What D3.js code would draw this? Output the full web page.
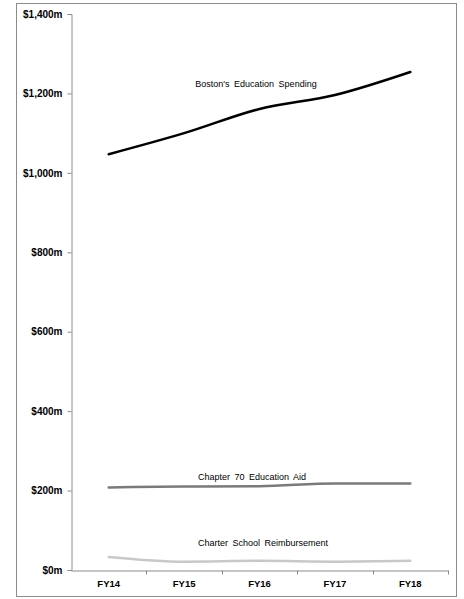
<!DOCTYPE html>
<html>
<head>
<meta charset="utf-8">
<script src="https://cdn.jsdelivr.net/npm/d3@7"></script>
<style>
  body { margin: 0; background: #fff; }
  text { font-family: Arial, 'Liberation Sans', sans-serif; }
</style>
</head>
<body>
<div id="chart"></div>
<script>
const years = ['FY14', 'FY15', 'FY16', 'FY17', 'FY18'];
const bostonSpending = [1047, 1100, 1161, 1196, 1254];
const chapter70Aid = [208, 210, 211, 218, 218];
const charterReimb = [33, 21, 23, 21, 23];
const yTicks = [0, 200, 400, 600, 800, 1000, 1200, 1400];

const width = 464, height = 599;
const margin = { top: 14, right: 16, bottom: 29, left: 71 };

const svg = d3.select('#chart')
  .append('svg')
  .attr('width', width)
  .attr('height', height);

// outer frame
svg.append('rect')
  .attr('x', 16.5).attr('y', 3.5)
  .attr('width', 440).attr('height', 593)
  .attr('fill', 'none')
  .attr('stroke', '#8c8c8c')
  .attr('stroke-width', 1);

const x = d3.scaleBand()
  .domain(years)
  .range([margin.left, width - margin.right]);

const y = d3.scaleLinear()
  .domain([0, 1400])
  .range([height - margin.bottom, margin.top]);

const fmt = d => '$' + d3.format(',')(d) + 'm';

// y axis
const yAxis = svg.append('g')
  .attr('transform', `translate(${margin.left + 0.5},0)`)
  .call(d3.axisLeft(y).tickValues(yTicks).tickFormat(fmt).tickSize(4).tickPadding(5));
yAxis.select('.domain').attr('stroke', '#8c8c8c');
yAxis.selectAll('.tick line').attr('stroke', '#8c8c8c');
yAxis.selectAll('text')
  .attr('fill', '#000')
  .style('font-size', '10px')
  .style('font-weight', 700);

// x axis with ticks between categories
const xAxis = svg.append('g')
  .attr('transform', `translate(0,${height - margin.bottom + 0.5})`)
  .call(d3.axisBottom(x).tickSize(0).tickPadding(10));
xAxis.select('.domain').attr('stroke', '#8c8c8c');
xAxis.selectAll('text')
  .attr('fill', '#000')
  .style('font-size', '9.5px')
  .style('font-weight', 700);
xAxis.selectAll('.sep')
  .data(years.slice(1).concat(['end']))
  .join('line')
  .attr('class', 'sep')
  .attr('x1', (d, i) => Math.round(x(years[0]) + x.bandwidth() * (i + 1)) + 0.5)
  .attr('x2', (d, i) => Math.round(x(years[0]) + x.bandwidth() * (i + 1)) + 0.5)
  .attr('y1', 0).attr('y2', 4)
  .attr('stroke', '#8c8c8c');

const cx = d => x(d) + x.bandwidth() / 2;

const series = [
  { name: "Boston's Education Spending", values: bostonSpending, color: '#000000', lx: 256, ly: 87 },
  { name: 'Chapter 70 Education Aid', values: chapter70Aid, color: '#7a7a7a', lx: 252, ly: 480 },
  { name: 'Charter School Reimbursement', values: charterReimb, color: '#c8c8c8', lx: 263, ly: 546 }
];

const line = d3.line()
  .x((d, i) => cx(years[i]))
  .y(d => y(d))
  .curve(d3.curveMonotoneX);

series.forEach(s => {
  svg.append('path')
    .datum(s.values)
    .attr('fill', 'none')
    .attr('stroke', s.color)
    .attr('stroke-width', 2.5)
    .attr('stroke-linecap', 'round')
    .attr('d', line);

  svg.append('text')
    .attr('x', s.lx)
    .attr('y', s.ly)
    .attr('text-anchor', 'middle')
    .attr('fill', '#000')
    .style('font-size', '9px')
    .style('word-spacing', '2px')
    .text(s.name);
});
</script>
</body>
</html>
